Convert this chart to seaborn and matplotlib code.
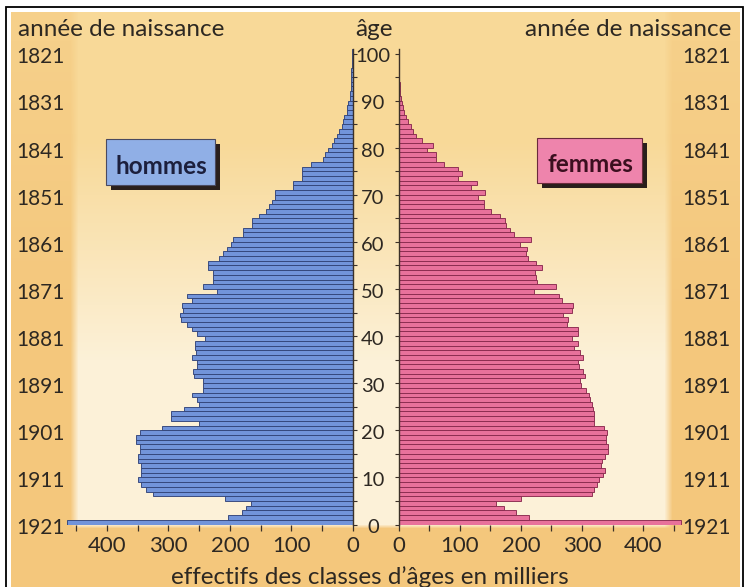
import numpy as np
import pandas as pd
import matplotlib
matplotlib.use("Agg")
import matplotlib.pyplot as plt
import matplotlib.transforms as mtransforms
from matplotlib.patches import Rectangle
import seaborn as sns

# ---------------- data (milliers) ----------------
ages = list(range(0, 101))
hommes = [465, 203, 180, 173, 166, 208, 325, 336, 344, 349,
          344, 344, 344, 349, 349, 346, 346, 353, 353, 346,
          311, 250, 296, 296, 274, 250, 254, 261, 244, 244,
          243, 258, 260, 254, 254, 262, 255, 257, 257, 240,
          254, 262, 270, 280, 281, 277, 278, 262, 270, 221,
          243, 227, 227, 228, 236, 236, 217, 211, 204, 199,
          195, 178, 178, 164, 164, 152, 141, 137, 132, 126,
          126, 98, 97, 83, 83, 83, 68, 49, 45, 41,
          34, 31, 26, 22, 18, 16, 14, 10, 10, 7,
          5, 4, 3.5, 3, 2.5, 2, 2, 1.5, 1, 1,
          1]
femmes = [462, 214, 192, 173, 159, 200, 317, 319, 324, 328,
          335, 337, 331, 332, 337, 343, 343, 339, 339, 340,
          336, 319, 319, 319, 318, 316, 313, 312, 307, 298,
          297, 305, 301, 295, 294, 302, 297, 286, 294, 283,
          294, 294, 275, 277, 269, 283, 285, 267, 263, 221,
          258, 226, 225, 223, 234, 224, 211, 208, 210, 199,
          216, 189, 182, 176, 174, 166, 151, 140, 140, 130,
          141, 119, 128, 98, 104, 98, 75, 61, 61, 46,
          57, 38, 29, 24, 20, 16, 12, 9, 7, 5,
          3.5, 2.5, 2, 2, 1.5, 1.5, 1, 1, 1, 1,
          1]
age_ticks = [0, 10, 20, 30, 40, 50, 60, 70, 80, 90, 100]
annees = ["1921", "1911", "1901", "1891", "1881", "1871",
          "1861", "1851", "1841", "1831", "1821"]
x_ticks = [0, 100, 200, 300, 400]
x_minor = [50, 150, 250, 350, 450]
age_minor = [5, 15, 25, 35, 45, 55, 65, 75, 85, 95]

# ---------------- style ----------------
W, H = 750, 587
sns.set_style("ticks")
plt.rcParams["font.family"] = ["Lato", "DejaVu Sans"]
TXT = "#2d2822"
TICK = "#3a3028"

fig = plt.figure(figsize=(W / 100, H / 100), dpi=100)
fig.patch.set_facecolor("white")


def fx(px):
    return px / W


def fy(py):
    return 1 - py / H


# ---------------- background ----------------
yy, xx = np.mgrid[0:H, 0:W].astype(float)
orange = np.array([244, 199, 124]) / 255
orange_top = np.array([246, 208, 138]) / 255
yellow = np.array([248, 217, 152]) / 255
cream = np.array([252, 241, 216]) / 255
t = np.clip((yy - 140) / 220, 0, 1)[..., None]
inner = yellow * (1 - t) + cream * t
tt = np.clip((yy - 40) / 280, 0, 1)[..., None]
outer = orange_top * (1 - tt) + orange * tt
m = (np.clip((xx - 70) / 8, 0, 1) * np.clip((672 - xx) / 8, 0, 1)
     * np.clip((528 - yy) / 4, 0, 1))[..., None]
img = outer * (1 - m) + inner * m
white = (xx < 11) | (xx > 739) | (yy < 12)
img[white] = 1.0
bg = fig.add_axes([0, 0, 1, 1], zorder=-10)
bg.imshow(img, extent=[0, W, H, 0], aspect="auto", interpolation="bilinear")
bg.set_xlim(0, W)
bg.set_ylim(H, 0)
bg.set_axis_off()

# frame
fig.patches.append(Rectangle((fx(6), fy(592)), fx(743) - fx(6), fy(7) - fy(592),
                             transform=fig.transFigure, fill=False,
                             edgecolor="black", lw=1.3, zorder=5))

# ---------------- axes ----------------
y0, y1 = 524.5, 48.8   # pixel rows of age 0 and age 101
axL = fig.add_axes([fx(64.1), fy(y0), fx(352.7) - fx(64.1), fy(y1) - fy(y0)])
axR = fig.add_axes([fx(398.5), fy(y0), fx(686.1) - fx(398.5), fy(y1) - fy(y0)])

dfH = pd.DataFrame({"age": ages, "effectif": hommes})
dfH["centre"] = dfH["age"] + 0.5
dfF = pd.DataFrame({"age": ages, "effectif": femmes})
dfF["centre"] = dfF["age"] + 0.5

sns.barplot(data=dfH, x="effectif", y="centre", orient="y", native_scale=True,
            width=1, color="#7294DA", saturation=1, edgecolor="#33457A",
            linewidth=0.65, errorbar=None, ax=axL)
sns.barplot(data=dfF, x="effectif", y="centre", orient="y", native_scale=True,
            width=1, color="#E8719B", saturation=1, edgecolor="#8A2B4F",
            linewidth=0.65, errorbar=None, ax=axR)

axL.set_xlim(470, 0)
axR.set_xlim(0, 470)
for ax in (axL, axR):
    ax.set_ylim(0, 101)
    ax.patch.set_alpha(0)
    ax.set_xlabel("")
    ax.set_ylabel("")
    ax.set_xticks(x_ticks)
    ax.set_xticklabels([str(v) for v in x_ticks])
    ax.set_xticks(x_minor, minor=True)
    ax.tick_params(axis="x", which="both", direction="out", length=4.5,
                   width=0.9, color=TICK, pad=3.5, labelsize=16,
                   labelcolor=TXT)
    ax.set_yticks(age_ticks)
    ax.set_yticklabels([])
    ax.set_yticks(age_minor, minor=True)
    ax.tick_params(axis="y", which="both", direction="out", length=3,
                   width=0.8, color=TICK)
    for s in ax.spines.values():
        s.set_visible(False)

axL.yaxis.tick_right()
axL.spines["right"].set_visible(True)
axL.spines["right"].set_color(TICK)
axL.spines["right"].set_linewidth(1.0)
axR.yaxis.tick_left()
axR.spines["left"].set_visible(True)
axR.spines["left"].set_color(TICK)
axR.spines["left"].set_linewidth(1.0)

# ---------------- texts ----------------
trL = mtransforms.blended_transform_factory(fig.transFigure, axL.transData)
for a, yr in zip(age_ticks, annees):
    yv = a - 0.4
    fig.text(fx(16), yv, yr, transform=trL, ha="left", va="center_baseline",
             fontsize=15, color=TXT)
    fig.text(fx(731), yv, yr, transform=trL, ha="right", va="center_baseline",
             fontsize=15, color=TXT)
    fig.text(fx(373), yv, str(a), transform=trL, ha="center",
             va="center_baseline", fontsize=14.5, color=TXT)

fig.text(fx(18), fy(36.5), "année de naissance", ha="left", va="baseline",
         fontsize=17.5, color=TXT)
fig.text(fx(731), fy(36.5), "année de naissance", ha="right", va="baseline",
         fontsize=17.5, color=TXT)
fig.text(fx(374), fy(36.5), "âge", ha="center", va="baseline",
         fontsize=17.5, color=TXT)
fig.text(fx(370), fy(575), "effectifs des classes d\u2019âges en milliers",
         ha="center", va="center_baseline", fontsize=17.5, color=TXT)

# label boxes with shadow
def label_box(x0, y0_, x1, y1_, face, edge, txt, tcol):
    fig.patches.append(Rectangle((fx(x0 + 5), fy(y1_ + 5)), fx(x1) - fx(x0),
                                 fy(y0_) - fy(y1_), transform=fig.transFigure,
                                 facecolor="#2a1f1c", edgecolor="none", zorder=3))
    fig.patches.append(Rectangle((fx(x0), fy(y1_)), fx(x1) - fx(x0),
                                 fy(y0_) - fy(y1_), transform=fig.transFigure,
                                 facecolor=face, edgecolor=edge, lw=0.8, zorder=4))
    fig.text(fx((x0 + x1) / 2 + 1), fy((y0_ + y1_) / 2 + 2), txt, ha="center",
             va="center_baseline", fontsize=17.5, fontweight="bold", color=tcol,
             zorder=6)


label_box(106, 139, 215, 185, "#90AFE6", "#4a4a60", "hommes", "#1c1f3d")
label_box(537, 138, 642, 183, "#EE84AC", "#6a2a3c", "femmes", "#3b0f1f")

fig.savefig("out.png", dpi=100, facecolor=fig.get_facecolor())
